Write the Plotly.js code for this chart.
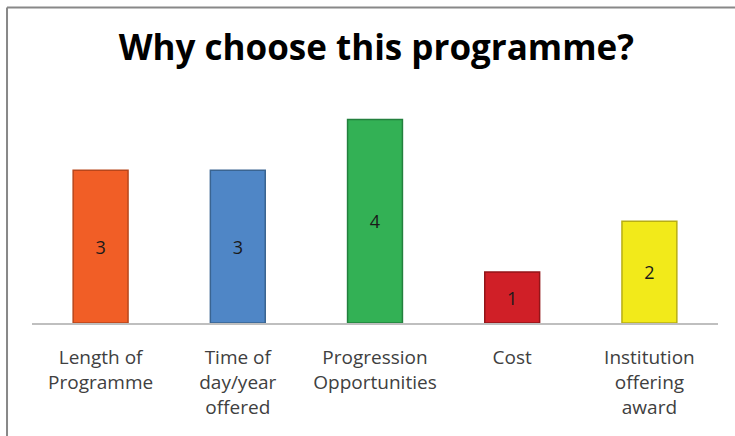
<!DOCTYPE html>
<html>
<head>
<meta charset="utf-8">
<script src="https://cdn.plot.ly/plotly-3.0.1.min.js"></script>
<style>
html,body{margin:0;padding:0;background:#fff;}
#chart{width:735px;height:436px;}
</style>
</head>
<body>
<div id="chart"></div>
<script>
var categories = ["Length of<br>Programme", "Time of<br>day/year<br>offered", "Progression<br>Opportunities", "Cost", "Institution<br>offering<br>award"];
var counts = [3, 3, 4, 1, 2];
var barColors = ["#F15E26", "#4F86C6", "#33B155", "#D01F27", "#F2EA1A"];
var barEdges = ["#B8461B", "#3A6491", "#23803E", "#931519", "#B8AE14"];
var titleText = "Why choose this programme?";

var trace = {
  type: "bar",
  x: categories,
  y: counts,
  text: counts.map(String),
  textposition: "inside",
  insidetextanchor: "middle",
  textangle: 0,
  constraintext: "none",
  textfont: {family: "Open Sans, sans-serif", size: 18, color: "#1a1a1a"},
  marker: {color: barColors, line: {color: barEdges, width: 1.5}},
  hoverinfo: "none"
};

var L = 31.5, R = 718, T = 94, B = 323;
var pw = R - L, ph = B - T;
function px(x){return (x - L) / pw;}
function py(y){return (B - y) / ph;}

var layout = {
  width: 735, height: 436,
  margin: {l: L, r: 735 - R, t: T, b: 436 - B, pad: 0},
  paper_bgcolor: "#ffffff",
  plot_bgcolor: "#ffffff",
  showlegend: false,
  bargap: 0.6,
  title: {
    text: "<b>" + titleText + "</b>",
    font: {family: "Open Sans, sans-serif", size: 35, color: "#000000"},
    x: 0.512, xanchor: "center",
    y: 0.89, yanchor: "middle"
  },
  xaxis: {
    type: "category",
    showgrid: false, zeroline: false,
    showline: true, linecolor: "#BFBFBF", linewidth: 1.5,
    ticks: "", ticklabelstandoff: 17,
    tickfont: {family: "Open Sans, sans-serif", size: 19, color: "#404040"}
  },
  yaxis: {
    range: [0, 4.5],
    showgrid: false, zeroline: false, showline: false,
    showticklabels: false, ticks: ""
  },
  shapes: [
    {type: "line", xref: "paper", yref: "paper", x0: px(6.5), x1: px(735), y0: py(7.5), y1: py(7.5), line: {color: "#888888", width: 2}},
    {type: "line", xref: "paper", yref: "paper", x0: px(6.5), x1: px(6.5), y0: py(7.5), y1: py(436), line: {color: "#888888", width: 2}}
  ]
};

Plotly.newPlot("chart", [trace], layout, {staticPlot: true, displayModeBar: false});
</script>
</body>
</html>
